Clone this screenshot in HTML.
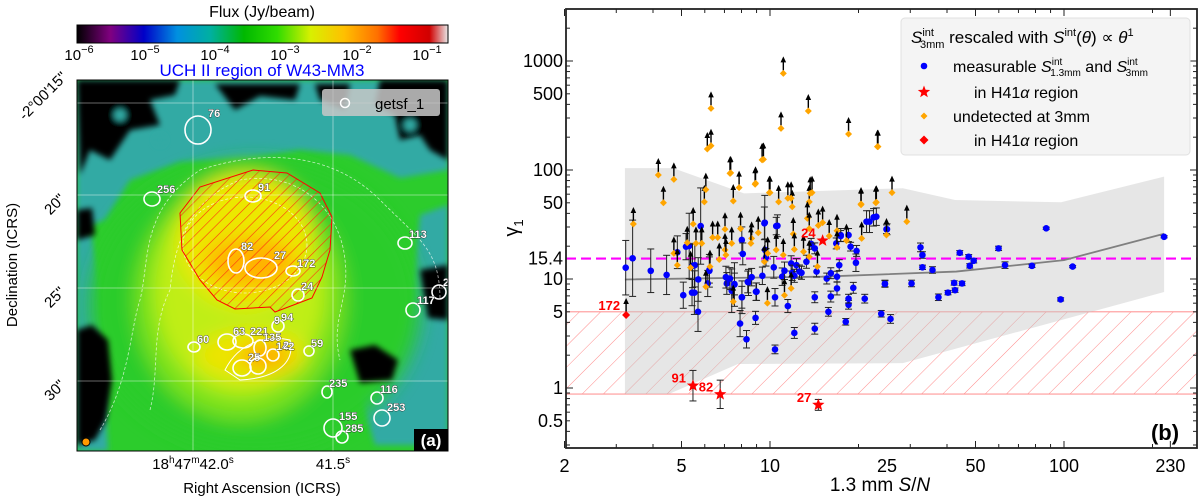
<!DOCTYPE html>
<html><head><meta charset="utf-8">
<style>
html,body{margin:0;padding:0;background:#fff;}
body{width:1200px;height:498px;position:relative;overflow:hidden;font-family:"Liberation Sans","DejaVu Sans",sans-serif;}
svg{position:absolute;left:0;top:0;}
</style></head>
<body>
<svg id="fig" width="1200" height="498" viewBox="0 0 1200 498" xmlns="http://www.w3.org/2000/svg">
<defs>
  <linearGradient id="cmap" x1="0" x2="1" y1="0" y2="0">
    <stop offset="0" stop-color="#000000"/>
    <stop offset="0.09" stop-color="#800080"/>
    <stop offset="0.18" stop-color="#0000c8"/>
    <stop offset="0.27" stop-color="#0090e0"/>
    <stop offset="0.36" stop-color="#00b0a0"/>
    <stop offset="0.45" stop-color="#00b800"/>
    <stop offset="0.54" stop-color="#30dc00"/>
    <stop offset="0.63" stop-color="#d8f000"/>
    <stop offset="0.72" stop-color="#ffc000"/>
    <stop offset="0.81" stop-color="#ff7000"/>
    <stop offset="0.87" stop-color="#ff0000"/>
    <stop offset="0.95" stop-color="#d00000"/>
    <stop offset="1" stop-color="#e8e8e8"/>
  </linearGradient>
  <filter id="blur" x="-20%" y="-20%" width="140%" height="140%"><feGaussianBlur stdDeviation="3"/></filter>
  <filter id="blur2" x="-20%" y="-20%" width="140%" height="140%"><feGaussianBlur stdDeviation="9"/></filter>
  <pattern id="hatchRed" patternUnits="userSpaceOnUse" width="8" height="8" patternTransform="rotate(45)">
    <line x1="0" y1="0" x2="0" y2="8" stroke="#ff3010" stroke-width="1.2"/>
  </pattern>
  <pattern id="hatchPink" patternUnits="userSpaceOnUse" width="15" height="15" patternTransform="rotate(45)">
    <line x1="0" y1="0" x2="0" y2="15" stroke="#ff8c8c" stroke-width="1"/>
  </pattern>
  <clipPath id="mapClip"><rect x="77" y="80" width="371" height="371"/></clipPath>
  <clipPath id="plotClip"><rect x="566" y="9" width="631" height="439"/></clipPath>
</defs>

<!-- ================= LEFT PANEL ================= -->
<g>
  <text x="262" y="17" font-size="16" text-anchor="middle">Flux (Jy/beam)</text>
  <rect x="77" y="25" width="371" height="18" fill="url(#cmap)" stroke="#000" stroke-width="1"/>
  <g font-size="15" text-anchor="middle">
    <text x="79" y="60">10<tspan dy="-7" font-size="11">−6</tspan></text>
    <text x="145" y="60">10<tspan dy="-7" font-size="11">−5</tspan></text>
    <text x="215" y="60">10<tspan dy="-7" font-size="11">−4</tspan></text>
    <text x="285" y="60">10<tspan dy="-7" font-size="11">−3</tspan></text>
    <text x="357" y="60">10<tspan dy="-7" font-size="11">−2</tspan></text>
    <text x="427" y="60">10<tspan dy="-7" font-size="11">−1</tspan></text>
  </g>
</g>
<text x="262" y="76" font-size="17" fill="#0000ff" text-anchor="middle">UCH II region of W43-MM3</text>

<g clip-path="url(#mapClip)">
  <rect x="77" y="80" width="371" height="371" fill="#2ccc2c"/>
  <g filter="url(#blur)">
    <path d="M77 80 H448 V170 L400 178 L350 155 L300 150 L250 158 L180 162 L130 180 L105 220 L77 230 Z" fill="#30aaa4"/>
    <path d="M77 230 L92 235 L100 300 L108 451 H77 Z" fill="#30aaa4"/>
    <path d="M420 215 L448 205 V445 L375 445 L360 395 L395 345 L412 300 Z" fill="#30aaa4"/>
  </g>
  <g filter="url(#blur2)">
    <ellipse cx="255" cy="305" rx="165" ry="145" fill="#2ccc2c"/>
    <ellipse cx="240" cy="300" rx="105" ry="120" fill="#7ae21c"/>
    <ellipse cx="240" cy="290" rx="85" ry="105" fill="#c0ee14"/>
    <circle cx="245" cy="240" r="68" fill="#ece800"/>
    <ellipse cx="252" cy="355" rx="55" ry="25" fill="#ece400"/>
    <ellipse cx="250" cy="262" rx="45" ry="25" fill="#ffb400"/>
    <ellipse cx="265" cy="356" rx="25" ry="12" fill="#ffa800"/>
  </g>
  <g filter="url(#blur)">
    <path d="M77 80 H180 L175 95 L150 100 L160 125 L130 130 L110 160 L90 150 L80 175 Z" fill="#000"/>
    <path d="M215 84 H300 L295 100 L260 96 L235 110 Z" fill="#000"/>
    <path d="M315 84 H350 L345 110 L320 100 Z" fill="#000"/>
    <path d="M380 80 H448 V160 L430 150 L420 135 L400 140 L395 115 L375 105 Z" fill="#000"/>
    <path d="M77 330 L92 325 L108 340 L112 380 L106 420 L95 440 L77 445 Z" fill="#000"/>
    <path d="M350 350 L375 345 L398 360 L392 380 L360 383 Z" fill="#000"/>
    <path d="M420 270 L448 265 V320 L428 318 Z" fill="#000"/>
    <path d="M77 210 L92 208 L95 235 L77 240 Z" fill="#000"/>
    <circle cx="120" cy="115" r="6" fill="#30aaa4"/><circle cx="160" cy="140" r="6" fill="#30aaa4"/>
    <circle cx="410" cy="125" r="6" fill="#30aaa4"/>
  </g>
  <g fill="none" stroke="#fff" stroke-width="0.8" stroke-dasharray="3,2" opacity="0.7">
    <path fill="none" d="M100 430 C130 380 130 330 140 300 C150 260 140 210 200 170 C260 150 330 150 380 200 C420 240 440 250 440 300"/>
    <path fill="none" d="M150 410 C160 370 150 330 170 290 C175 240 190 200 240 180 C300 170 340 210 345 260 C350 300 330 320 340 360"/>
    <ellipse fill="none" cx="245" cy="245" rx="62" ry="48"/>
  </g>
  <path d="M225 370 C240 340 270 335 290 340 C295 360 280 378 240 380 Z" fill="none" stroke="#fff" stroke-width="1"/>
  <path d="M180 213 L200 187 L253 170 L287 173 L320 193 L332 217 L330 250 L322 277 L312 298 L275 312 L270 307 L235 309 L217 300 L200 280 L182 250 Z" fill="url(#hatchRed)" stroke="#ff0000" stroke-width="1"/>
  <g stroke="#ffffff" stroke-opacity="0.55" stroke-width="0.8">
    <line x1="193" y1="80" x2="193" y2="451"/><line x1="333" y1="80" x2="333" y2="451"/>
    <line x1="77" y1="103" x2="448" y2="103"/><line x1="77" y1="195" x2="448" y2="195"/>
    <line x1="77" y1="288" x2="448" y2="288"/><line x1="77" y1="381" x2="448" y2="381"/>
  </g>
  <g id="sources" fill="none" stroke="#fff" stroke-width="1.6"></g>
  <rect x="322" y="89" width="118" height="27" rx="3" fill="#c8c8c8" opacity="0.85"/>
  <circle cx="345" cy="103" r="4.5" fill="none" stroke="#fff" stroke-width="1.5"/>
  <text x="375" y="109" font-size="15">getsf_1</text>
  <circle cx="86" cy="442" r="4" fill="#ff9900" stroke="#000" stroke-width="1"/>
  <rect x="414" y="429" width="34" height="22" fill="#000"/>
  <text x="431" y="446" font-size="17" font-weight="bold" fill="#fff" text-anchor="middle">(a)</text>
</g>
<rect x="77" y="80" width="371" height="371" fill="none" stroke="#000" stroke-width="1"/>
<g font-size="15">
  <text x="193" y="469" text-anchor="middle">18<tspan dy="-6" font-size="10">h</tspan><tspan dy="6">47</tspan><tspan dy="-6" font-size="10">m</tspan><tspan dy="6">42.0</tspan><tspan dy="-6" font-size="10">s</tspan></text>
  <text x="333" y="469" text-anchor="middle">41.5<tspan dy="-6" font-size="10">s</tspan></text>
</g>
<text x="262" y="493" font-size="15" text-anchor="middle">Right Ascension (ICRS)</text>
<g font-size="15">
  <text transform="translate(68,78) rotate(-45)" text-anchor="end">-2°00'15"</text>
  <text transform="translate(66,200) rotate(-45)" text-anchor="end">20"</text>
  <text transform="translate(66,293) rotate(-45)" text-anchor="end">25"</text>
  <text transform="translate(66,386) rotate(-45)" text-anchor="end">30"</text>
</g>
<text transform="translate(17,265) rotate(-90)" font-size="15" text-anchor="middle">Declination (ICRS)</text>

<!-- ================= RIGHT PANEL ================= -->
<g id="plot"></g>
</svg>

<script>
// ---- source ellipses on the map (sky positions) ----
const srcNames = ['76','256','91','113','82','27','172','24','267','117','94','221','63','60','135','142','25','','59','235','116','253','155','285'];
const srcCX = [198,152,253,405,236,261,293,298,439,413,278,243,227,194,260,273,242,258,309,327,377,382,333,342];
const srcCY = [130,199,196,243,261,268,271,295,292,310,326,341,342,347,348,355,368,366,351,392,398,418,428,437];
const srcRX = [13,8,8,7,8,16,7,6,7,7,6,10,9,6,6,6,9,8,5,5,6,8,9,6];
const srcRY = [14,7,6,6,12,10,5,6,7,7,6,7,8,5,8,6,8,8,5,6,6,8,9,6];
const NS='http://www.w3.org/2000/svg';
const srcG=document.getElementById('sources');
function srcLabel(txt,x,y){
  const t=document.createElementNS(NS,'text');
  t.setAttribute('x',x);t.setAttribute('y',y);
  t.setAttribute('font-size','11');t.setAttribute('font-weight','bold');
  t.setAttribute('fill','#fff');t.setAttribute('stroke','#222');t.setAttribute('stroke-width','0.7');
  t.setAttribute('paint-order','stroke');
  t.textContent=txt;
  
  
  srcG.appendChild(t);
}
for(let i=0;i<srcNames.length;i++){
  const e=document.createElementNS(NS,'ellipse');
  e.setAttribute('cx',srcCX[i]);e.setAttribute('cy',srcCY[i]);
  e.setAttribute('rx',srcRX[i]);e.setAttribute('ry',srcRY[i]);
  e.setAttribute('stroke','#fff');
  
  
  srcG.appendChild(e);
  if(srcNames[i]) srcLabel(srcNames[i],srcCX[i]+srcRX[i]-3,srcCY[i]-srcRY[i]+1);
}
srcLabel('9',274,324);
srcLabel('2',283,349);

// ---- gamma vs S/N data ----
const xTickVals=[2,5,10,25,50,100,230];
const yTickVals=[0.5,1,5,10,15.4,50,100,500,1000];
const orangeSN=[4.17,4.71,4.34,7.31,7.85,8.9,9.4,9.95,7.5,5.98,
 6.05,10.7,11.5,11.9,13.6,13.9,13.4,23.2,26,22.9,
 20.4,3.43,5.48,6.38,6.64,7.03,7.94,8.66,9.12,12,
 13.6,14.6,15.1,15.9,16.9,20.5,24.9,4.71,5.23,5.6,
 5.86,7.03,7.41,8.61,9.82,10.5,11.1,12.1,13,13.6,
 16.9,18.2,4.84,5.37,6.05,6.25,6.72,7.08,9.57,11.2,
 7.5,9.8,11.8,14.5,11.1,6.3,13.5,10.9,18.5,23.3,
 6.12,6.3,9.5,7.35,8.93,29.2,23,20.4,13.7,11.8,
 10];
const orangeGamma=[90,82,50,93,69,74,124,62,52,51,
 66,51,55,46,51,62,36,164,62,50,
 48,32,32,24,24,28.6,29,23.6,26.6,25.9,
 29,31,32.9,24.8,27.7,23.6,25.3,17.2,21.5,21.2,
 21.2,18.5,21.2,21.2,17.2,18.5,16.6,18.7,17.8,16,
 19.5,22.5,13.4,12.7,8.5,13,15.1,16.6,14.4,7.1,
 6.2,6,8.2,13,770,368,348,241,214,164,
 156,167,125,94,75.5,33.6,50.6,48.8,61,55,
 62];
const blueSN=[3.23,3.41,3.93,4.45,5.07,5.43,5.69,5.55,5.31,6.22,
 7.13,7.41,7.57,7.91,8.03,8.32,8.45,8.93,9,10.4,
 10.4,11.5,12.1,14.2,14.2,15.8,16.1,16.9,18.1,18.5,
 18.5,19.2,21,23.9,24.6,25.7,30.3,32.5,33,33,
 35.7,37.4,40.3,42.3,42.6,45,44.2,47.4,47.8,49.3,
 59.9,63,77.8,97.4,107,87,219,25,23,21.8,
 5.81,9.6,10.6,17.4,18.5,4.84,5.18,5.45,5.7,5.53,
 6.14,6.22,7.08,7.31,7.57,8.02,8.08,8.02,8.4,8.66,
 8.96,9.42,9.57,9.62,9.69,10.3,10.5,11,11.2,11.8,
 11.9,12.1,12.3,12.6,12.8,13.3,13.8,14.2,14.4,15.6,
 16.1,16.9,17.2,16.8,17.4,18.8,19.7,19.6,21.3,22.5,
 24.9,24.6];
const blueGamma=[12.7,15.5,11.9,10.9,7.1,7.5,5,13.4,20.1,12.1,
 9.1,7.8,8.9,3.9,6.8,2.8,9.3,4.4,7.65,2.26,
 6.8,5.65,3.2,3.5,6.8,5,6.9,8.2,4.05,5.8,
 6.6,8.3,6.6,4.8,9.1,4.3,9.1,19.5,16.6,12.8,
 12.1,6.8,7.5,9.2,7.9,9.1,17.4,16,13.2,14.7,
 19.1,13.4,13.2,6.5,13,29.2,24.4,28.6,37.3,33.6,
 30.6,32.9,30.8,25.3,25.3,17.6,19.8,13.2,9.9,7.5,
 9.1,11.9,10.4,10.1,9,22.8,17,6.8,9.4,10.4,
 7.65,10.7,32.4,18.5,15.8,12.8,30.6,10.5,11.9,13.9,
 11.4,10.7,13.4,11.7,11.4,14.4,21,19.1,11.7,10.1,
 11.3,10.5,13.4,21.2,24.8,19.8,18.1,14.1,33.6,36.8,
 28.6,9];
const blueErrDex=[0.25,0.35,0.2,0.18,0.12,0.12,0.18,0.2,0.3,0.12,
 0.1,0.2,0.2,0.12,0.15,0.08,0.12,0.06,0.08,0.04,
 0.08,0.06,0.05,0.05,0.05,0.04,0.05,0.06,0.03,0.04,
 0.04,0.05,0.04,0.03,0.03,0.04,0.03,0.04,0.03,0.02,
 0.03,0.03,0.02,0.02,0.02,0.02,0.02,0.02,0.02,0.02,
 0.02,0.03,0.015,0.015,0.01,0.01,0.01,0.05,0.08,0.1,
 0.35,0.25,0.1,0.06,0.06,0.15,0.12,0.2,0.2,0.2,
 0.12,0.15,0.1,0.1,0.1,0.12,0.1,0.1,0.1,0.08,
 0.08,0.08,0.15,0.1,0.08,0.1,0.08,0.08,0.08,0.07,
 0.07,0.06,0.06,0.06,0.06,0.06,0.05,0.05,0.05,0.05,
 0.05,0.05,0.05,0.05,0.05,0.04,0.05,0.08,0.1,0.08,
 0.04,0.03];
const starSN=[15.1,5.47,6.77,14.6];
const starGamma=[22.5,1.05,0.875,0.70];
const starErrDex=[0,0.14,0.13,0.05];
const starLabels=['24','91','82','27'];
const diamondSN=[3.24];
const diamondGamma=[4.67];
const diamondLabels=['172'];
const bandSN=[3.21,4.68,8.16,28.3,42.6,97.7,219];
const bandUpper=[104,104,61,68,53,50.6,87];
const bandLowSN=[3.21,4.53,7.78,28.3,219];
const bandLower=[0.88,0.88,1.66,1.69,7.6];
const medianSN=[3.21,15,43,100,219];
const medianGamma=[9.9,10.5,11.7,14.9,26];
const thresholdGamma=15.4;
const hatchLow=0.88, hatchHigh=5;

// axes
const X0=566, X1=1197, Y0=9, Y1=448;
const xS=v=>770+294*Math.log10(v/10);
const yS=v=>388-109*Math.log10(v);
const plot=document.getElementById('plot');
function el(tag,attrs,parent){const e=document.createElementNS(NS,tag);for(const k in attrs)e.setAttribute(k,attrs[k]);(parent||plot).appendChild(e);return e;}

const clipG=el('g',{'clip-path':'url(#plotClip)'});



const hb=el('rect',{x:X0,y:yS(hatchHigh),width:X1-X0,height:yS(hatchLow)-yS(hatchHigh),fill:'url(#hatchPink)',stroke:'#ff8c8c','stroke-width':1},clipG);



let d='M'+bandSN.map((s,i)=>xS(s)+' '+yS(bandUpper[i])).join(' L');
for(let i=bandLowSN.length-1;i>=0;i--) d+=' L'+xS(bandLowSN[i])+' '+yS(bandLower[i]);
d+=' Z';
const gb=el('path',{d:d,fill:'#c8c8c8','fill-opacity':0.45},clipG);



const th=el('line',{x1:X0,x2:X1,y1:yS(thresholdGamma),y2:yS(thresholdGamma),stroke:'#ff00ff','stroke-width':2.2,'stroke-dasharray':'10,5'},clipG);



const ml=el('polyline',{points:medianSN.map((s,i)=>xS(s)+','+yS(medianGamma[i])).join(' '),fill:'none',stroke:'#808080','stroke-width':1.8},clipG);



for(let i=0;i<blueSN.length;i++){
  const x=xS(blueSN[i]),y=yS(blueGamma[i]);
  const e=blueErrDex[i];
  const ya=yS(blueGamma[i]*Math.pow(10,e)), yb=yS(blueGamma[i]/Math.pow(10,e));
  const g=el('g',{},clipG);
  
  
  el('line',{x1:x,x2:x,y1:ya,y2:yb,stroke:'#222','stroke-width':1},g);
  el('line',{x1:x-3.5,x2:x+3.5,y1:ya,y2:ya,stroke:'#222','stroke-width':1},g);
  el('line',{x1:x-3.5,x2:x+3.5,y1:yb,y2:yb,stroke:'#222','stroke-width':1},g);
  el('circle',{cx:x,cy:y,r:3.3,fill:'#0000ff'},g);
}
function arrow(g,x,y){
  el('line',{x1:x,x2:x,y1:y-3,y2:y-13,stroke:'#000','stroke-width':1.4},g);
  el('path',{d:`M${x-2.8} ${y-11} L${x} ${y-17} L${x+2.8} ${y-11} Z`,fill:'#000'},g);
}
for(let i=0;i<orangeSN.length;i++){
  const x=xS(orangeSN[i]),y=yS(orangeGamma[i]);
  const g=el('g',{},clipG);
  
  
  arrow(g,x,y);
  el('path',{d:`M${x} ${y-3.5} L${x+3.5} ${y} L${x} ${y+3.5} L${x-3.5} ${y} Z`,fill:'#ffa500'},g);
}
function starPath(x,y,r){let p='';for(let k=0;k<10;k++){const a=-Math.PI/2+k*Math.PI/5;const rr=k%2?r*0.42:r;p+=(k?'L':'M')+(x+rr*Math.cos(a)).toFixed(2)+' '+(y+rr*Math.sin(a)).toFixed(2);}return p+'Z';}
for(let i=0;i<diamondSN.length;i++){
  const x=xS(diamondSN[i]),y=yS(diamondGamma[i]);
  const g=el('g',{});
  
  
  arrow(g,x,y);
  el('path',{d:`M${x} ${y-4} L${x+4} ${y} L${x} ${y+4} L${x-4} ${y} Z`,fill:'#ff0000'},g);
  const t=el('text',{x:x-6,y:y-5,'font-size':13,'font-weight':'bold',fill:'#ff0000','text-anchor':'end'},g);
  t.textContent=diamondLabels[i];
}
for(let i=0;i<starSN.length;i++){
  const x=xS(starSN[i]),y=yS(starGamma[i]);
  const g=el('g',{});
  
  
  const e=starErrDex[i];
  if(e>0){const ya=yS(starGamma[i]*Math.pow(10,e)),yb=yS(starGamma[i]/Math.pow(10,e));
    el('line',{x1:x,x2:x,y1:ya,y2:yb,stroke:'#222','stroke-width':1},g);
    el('line',{x1:x-3.5,x2:x+3.5,y1:ya,y2:ya,stroke:'#222','stroke-width':1},g);
    el('line',{x1:x-3.5,x2:x+3.5,y1:yb,y2:yb,stroke:'#222','stroke-width':1},g);}
  el('path',{d:starPath(x,y,6.5),fill:'#ff0000'},g);
  const t=el('text',{x:x-7,y:y-3,'font-size':13,'font-weight':'bold',fill:'#ff0000','text-anchor':'end'},g);
  t.textContent=starLabels[i];
}

const fr=el('rect',{x:X0,y:Y0,width:X1-X0,height:Y1-Y0,fill:'none',stroke:'#222','stroke-width':1.8});


const tg=el('g',{stroke:'#222','stroke-width':1});


for(let dec=1;dec<=100;dec*=10){for(let m=1;m<10;m++){const v=m*dec;if(v<2||v>282)continue;const x=xS(v);const major=xTickVals.includes(v);const L=major?7:4;
  el('line',{x1:x,x2:x,y1:Y1,y2:Y1-L},tg);el('line',{x1:x,x2:x,y1:Y0,y2:Y0+L},tg);}}
[230].forEach(v=>{const x=xS(v);el('line',{x1:x,x2:x,y1:Y1,y2:Y1-7},tg);el('line',{x1:x,x2:x,y1:Y0,y2:Y0+7},tg);});
for(let dec=0.1;dec<=1000;dec*=10){for(let m=1;m<10;m++){const v=+(m*dec).toPrecision(3);if(v<0.29||v>2950)continue;const y=yS(v);const major=(m===1);const L=major?7:4;
  el('line',{x1:X0,x2:X0+L,y1:y,y2:y},tg);el('line',{x1:X1,x2:X1-L,y1:y,y2:y},tg);}}
const xl=el('g',{'font-size':18,'text-anchor':'middle',fill:'#000'});


xTickVals.forEach(v=>{const t=el('text',{x:xS(v),y:472},xl);t.textContent=String(v);});
const yl=el('g',{'font-size':18,'text-anchor':'end',fill:'#000'});


yTickVals.forEach(v=>{const t=el('text',{x:X0-3,y:yS(v)+6},yl);t.textContent=String(v);});
const xt=el('text',{x:880,y:491,'font-size':19,'text-anchor':'middle'});


xt.innerHTML='1.3 mm <tspan font-style="italic">S</tspan>/<tspan font-style="italic">N</tspan>';
const yt=el('text',{transform:'translate(518,228) rotate(-90)','font-size':20,'text-anchor':'middle'});


yt.innerHTML='γ<tspan font-size="13" dy="5">1</tspan>';
const pb=el('text',{x:1165,y:440,'font-size':22,'font-weight':'bold','text-anchor':'middle'});


pb.textContent='(b)';

const lg=el('g',{});


el('rect',{x:901,y:18,width:289,height:137,rx:4,fill:'#f4f4f4',stroke:'#e0e0e0'},lg);
const lt=el('text',{x:911,y:43,'font-size':17},lg);
lt.innerHTML='<tspan font-style="italic">S</tspan><tspan font-size="11" dy="-7">int</tspan><tspan font-size="11" dx="-14" dy="12">3mm</tspan><tspan dy="-5"> rescaled with </tspan><tspan font-style="italic">S</tspan><tspan font-size="11" dy="-7">int</tspan><tspan dy="7">(</tspan><tspan font-style="italic">θ</tspan>) ∝ <tspan font-style="italic">θ</tspan><tspan font-size="11" dy="-7">1</tspan>';


const e1=el('g',{},lg);


el('circle',{cx:924,cy:66,r:3.3,fill:'#0000ff'},e1);
const t1=el('text',{x:953,y:72,'font-size':16},e1);
t1.innerHTML='measurable <tspan font-style="italic">S</tspan><tspan font-size="10" dy="-7">int</tspan><tspan font-size="10" dx="-12" dy="11">1.3mm</tspan><tspan dy="-4"> and </tspan><tspan font-style="italic">S</tspan><tspan font-size="10" dy="-7">int</tspan><tspan font-size="10" dx="-12" dy="11">3mm</tspan>';
const e2=el('g',{},lg);


el('path',{d:starPath(924,92,6.5),fill:'#ff0000'},e2);
const t2=el('text',{x:974,y:98,'font-size':16},e2);t2.innerHTML='in H41<tspan font-style="italic">α</tspan> region';
const e3=el('g',{},lg);


el('path',{d:'M924 112.5 L927.5 116 L924 119.5 L920.5 116 Z',fill:'#ffa500'},e3);
const t3=el('text',{x:953,y:122,'font-size':16},e3);t3.textContent='undetected at 3mm';
const e4=el('g',{},lg);


el('path',{d:'M924 135.5 L928.5 140 L924 144.5 L919.5 140 Z',fill:'#ff0000'},e4);
const t4=el('text',{x:974,y:146,'font-size':16},e4);t4.innerHTML='in H41<tspan font-style="italic">α</tspan> region';
</script>
</body></html>
